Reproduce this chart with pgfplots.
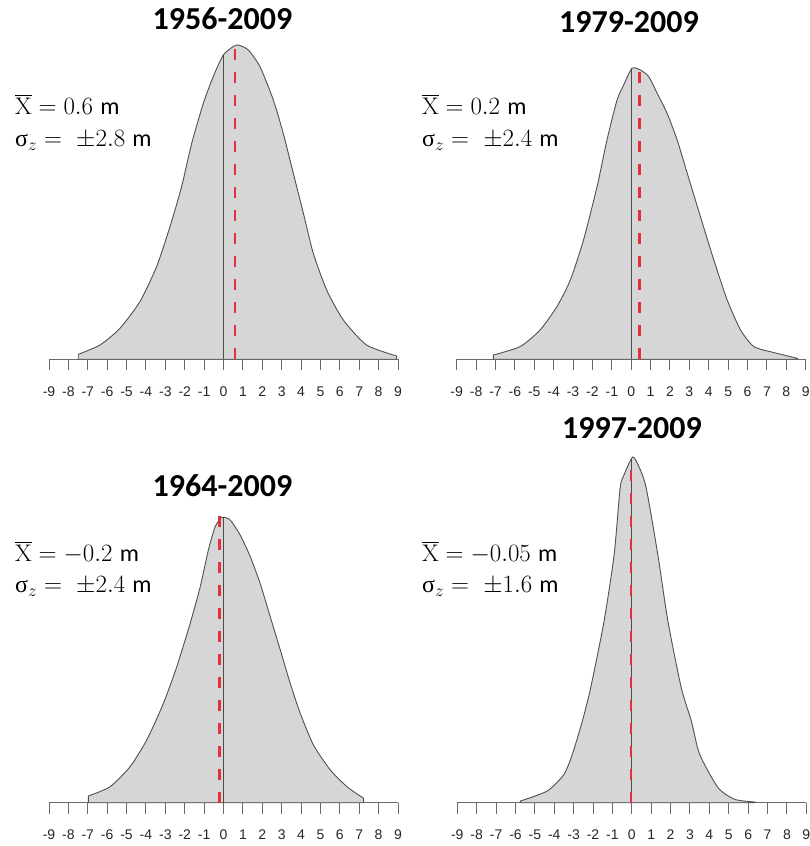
\documentclass[border=0pt]{standalone}
\usepackage{fontspec}
\usepackage{pgfplots}
\pgfplotsset{compat=1.18}
\newfontfamily\calibri{Carlito}
\newfontfamily\arial{Liberation Sans}
\newfontfamily\grk{Liberation Serif}

\definecolor{dens}{HTML}{D6D6D6}
\definecolor{meanred}{HTML}{E2303F}
\definecolor{edge}{HTML}{505050}

\newcommand\ann{\fontsize{24}{28}\selectfont}
\newcommand\ttl{\fontsize{32}{36}\calibri\bfseries}
% X with a bar over it
\newcommand\xbar{\leavevmode\vbox{\hrule height 1.3pt\kern 2.2pt\hbox{X}}}

\pgfplotsset{
  dpanel/.style={
    scale only axis, width=349pt, height=350pt,
    xmin=-9, xmax=9, ymin=0, ymax=350,
    axis x line*=bottom, hide y axis,
    xtick={-9,...,9},
    xticklabels={-9,-8,-7,-6,-5,-4,-3,-2,-1,0,1,2,3,4,5,6,7,8,9},
    axis line style={edge!85, line width=0.9pt},
    every tick/.style={edge!85, line width=1pt},
    xticklabel style={font=\fontsize{14}{16}\arial, text=black!85,
      inner sep=0pt, anchor=north, yshift=-16pt},
    clip=false,
  },
  curve/.style={draw=edge, fill=dens, line width=0.9pt, smooth, tension=0.4},
  zero/.style={black!70, line width=1.2pt},
  mean/.style={meanred, line width=2.6pt, dash pattern=on 11pt off 12pt},
}

\begin{document}
\begin{tikzpicture}
\path[use as bounding box] (0,0) rectangle (810pt,846pt);

% 1956-2009
\begin{axis}[dpanel, at={(49pt,486.7pt)}, anchor=south west,
  xtick align=outside, major tick length=11pt]
\addplot[curve] coordinates {
(-7.49,5) (-6.37,14.3) (-5.34,31) (-4.31,57.7) (-3.45,92.7) (-2.76,132.7)
(-2.16,172.7) (-1.64,216) (-1.04,256) (-0.53,282.7) (-0.01,304.3) (0.50,312.7)
(0.76,314.3) (1.28,309.3) (1.88,292.7) (2.57,259.3) (3.08,226) (3.60,186)
(4.12,146) (4.63,106) (5.32,69.3) (6.18,39.3) (7.38,14.3) (8.93,3.3)} \closedcycle;
\addplot[zero] coordinates {(0,0) (0,304)};
\addplot[mean] coordinates {(0.6,0) (0.6,314)};
\end{axis}

% 1979-2009
\begin{axis}[dpanel, at={(456.7pt,486.7pt)}, anchor=south west,
  xtick align=outside, major tick length=11pt]
\addplot[curve] coordinates {
(-7.11,4.3) (-5.73,12.7) (-4.70,29.3) (-3.83,52.7) (-3.14,79.3) (-2.46,119.3)
(-1.76,172.7) (-1.25,219.3) (-0.73,259.3) (-0.39,274.3) (0.04,291) (0.47,289.3)
(0.90,282.7) (1.34,266) (1.85,246) (2.37,219.3) (2.89,186) (3.57,142.7)
(4.26,99.3) (4.95,59.3) (5.64,29.3) (6.33,12.7) (7.36,6.7) (8.57,1)} \closedcycle;
\addplot[zero] coordinates {(0,0) (0,291)};
\addplot[mean] coordinates {(0.42,0) (0.42,289)};
\end{axis}

% 1964-2009
\begin{axis}[dpanel, at={(49pt,43.3pt)}, anchor=south west,
  xtick align=outside, major tick length=11pt]
\addplot[curve] coordinates {
(-6.97,6.7) (-5.85,16) (-4.82,36) (-3.96,62.7) (-3.10,99.3) (-2.41,136)
(-1.72,179.3) (-1.20,216) (-0.78,252.7) (-0.43,276) (-0.08,285.3) (0.34,282.7)
(0.86,267.7) (1.38,246) (1.89,219.3) (2.41,186) (2.93,152.7) (3.44,119.3)
(3.96,89.3) (4.64,57.7) (5.51,32.7) (6.37,16) (7.23,4.3)} \closedcycle;
\addplot[zero] coordinates {(0,0) (0,286)};
\addplot[mean] coordinates {(-0.2,0) (-0.2,291)};
\end{axis}

% 1997-2009
\begin{axis}[dpanel, at={(457.3pt,43.3pt)}, anchor=south west,
  xtick align=outside, major tick length=11pt]
\addplot[curve] coordinates {
(-5.75,1.7) (-4.36,11.7) (-3.50,28.3) (-3.07,48.3) (-2.55,81.7) (-2.12,115)
(-1.43,181.7) (-0.91,248.3) (-0.60,315) (-0.39,328.3) (0.05,345.7) (0.39,335)
(0.74,315) (1.34,248.3) (1.86,181.7) (2.55,115) (3.07,81.7) (3.50,48.3)
(4.45,15) (5.32,3.3) (6.35,0.7)} \closedcycle;
\addplot[zero] coordinates {(0,0) (0,345)};
\addplot[mean] coordinates {(-0.05,0) (-0.05,335)};
\end{axis}

% titles
\node[anchor=base, font=\ttl] at (222.5pt,816pt) {1956-2009};
\node[anchor=base, font=\ttl] at (629pt,813pt) {1979-2009};
\node[anchor=base, font=\ttl] at (222.5pt,349pt) {1964-2009};
\node[anchor=base, font=\ttl] at (632pt,407pt) {1997-2009};

% annotations
\node[anchor=base west, font=\ann, inner sep=0pt] at (15pt,731pt) {\xbar${} = 0.6$ {\calibri m}};
\node[anchor=base west, font=\ann, inner sep=0pt] at (15pt,699pt) {{\grk σ}$_{z} = \ \pm 2.8$ {\calibri m}};
\node[anchor=base west, font=\ann, inner sep=0pt] at (422pt,731pt) {\xbar${} = 0.2$ {\calibri m}};
\node[anchor=base west, font=\ann, inner sep=0pt] at (422pt,699pt) {{\grk σ}$_{z} = \ \pm 2.4$ {\calibri m}};
\node[anchor=base west, font=\ann, inner sep=0pt] at (15pt,284.3pt) {\xbar${} = -0.2$ {\calibri m}};
\node[anchor=base west, font=\ann, inner sep=0pt] at (15pt,253pt) {{\grk σ}$_{z} = \ \pm 2.4$ {\calibri m}};
\node[anchor=base west, font=\ann, inner sep=0pt] at (422pt,284.3pt) {\xbar${} = -0.05$ {\calibri m}};
\node[anchor=base west, font=\ann, inner sep=0pt] at (422pt,253pt) {{\grk σ}$_{z} = \ \pm 1.6$ {\calibri m}};
\end{tikzpicture}
\end{document}
